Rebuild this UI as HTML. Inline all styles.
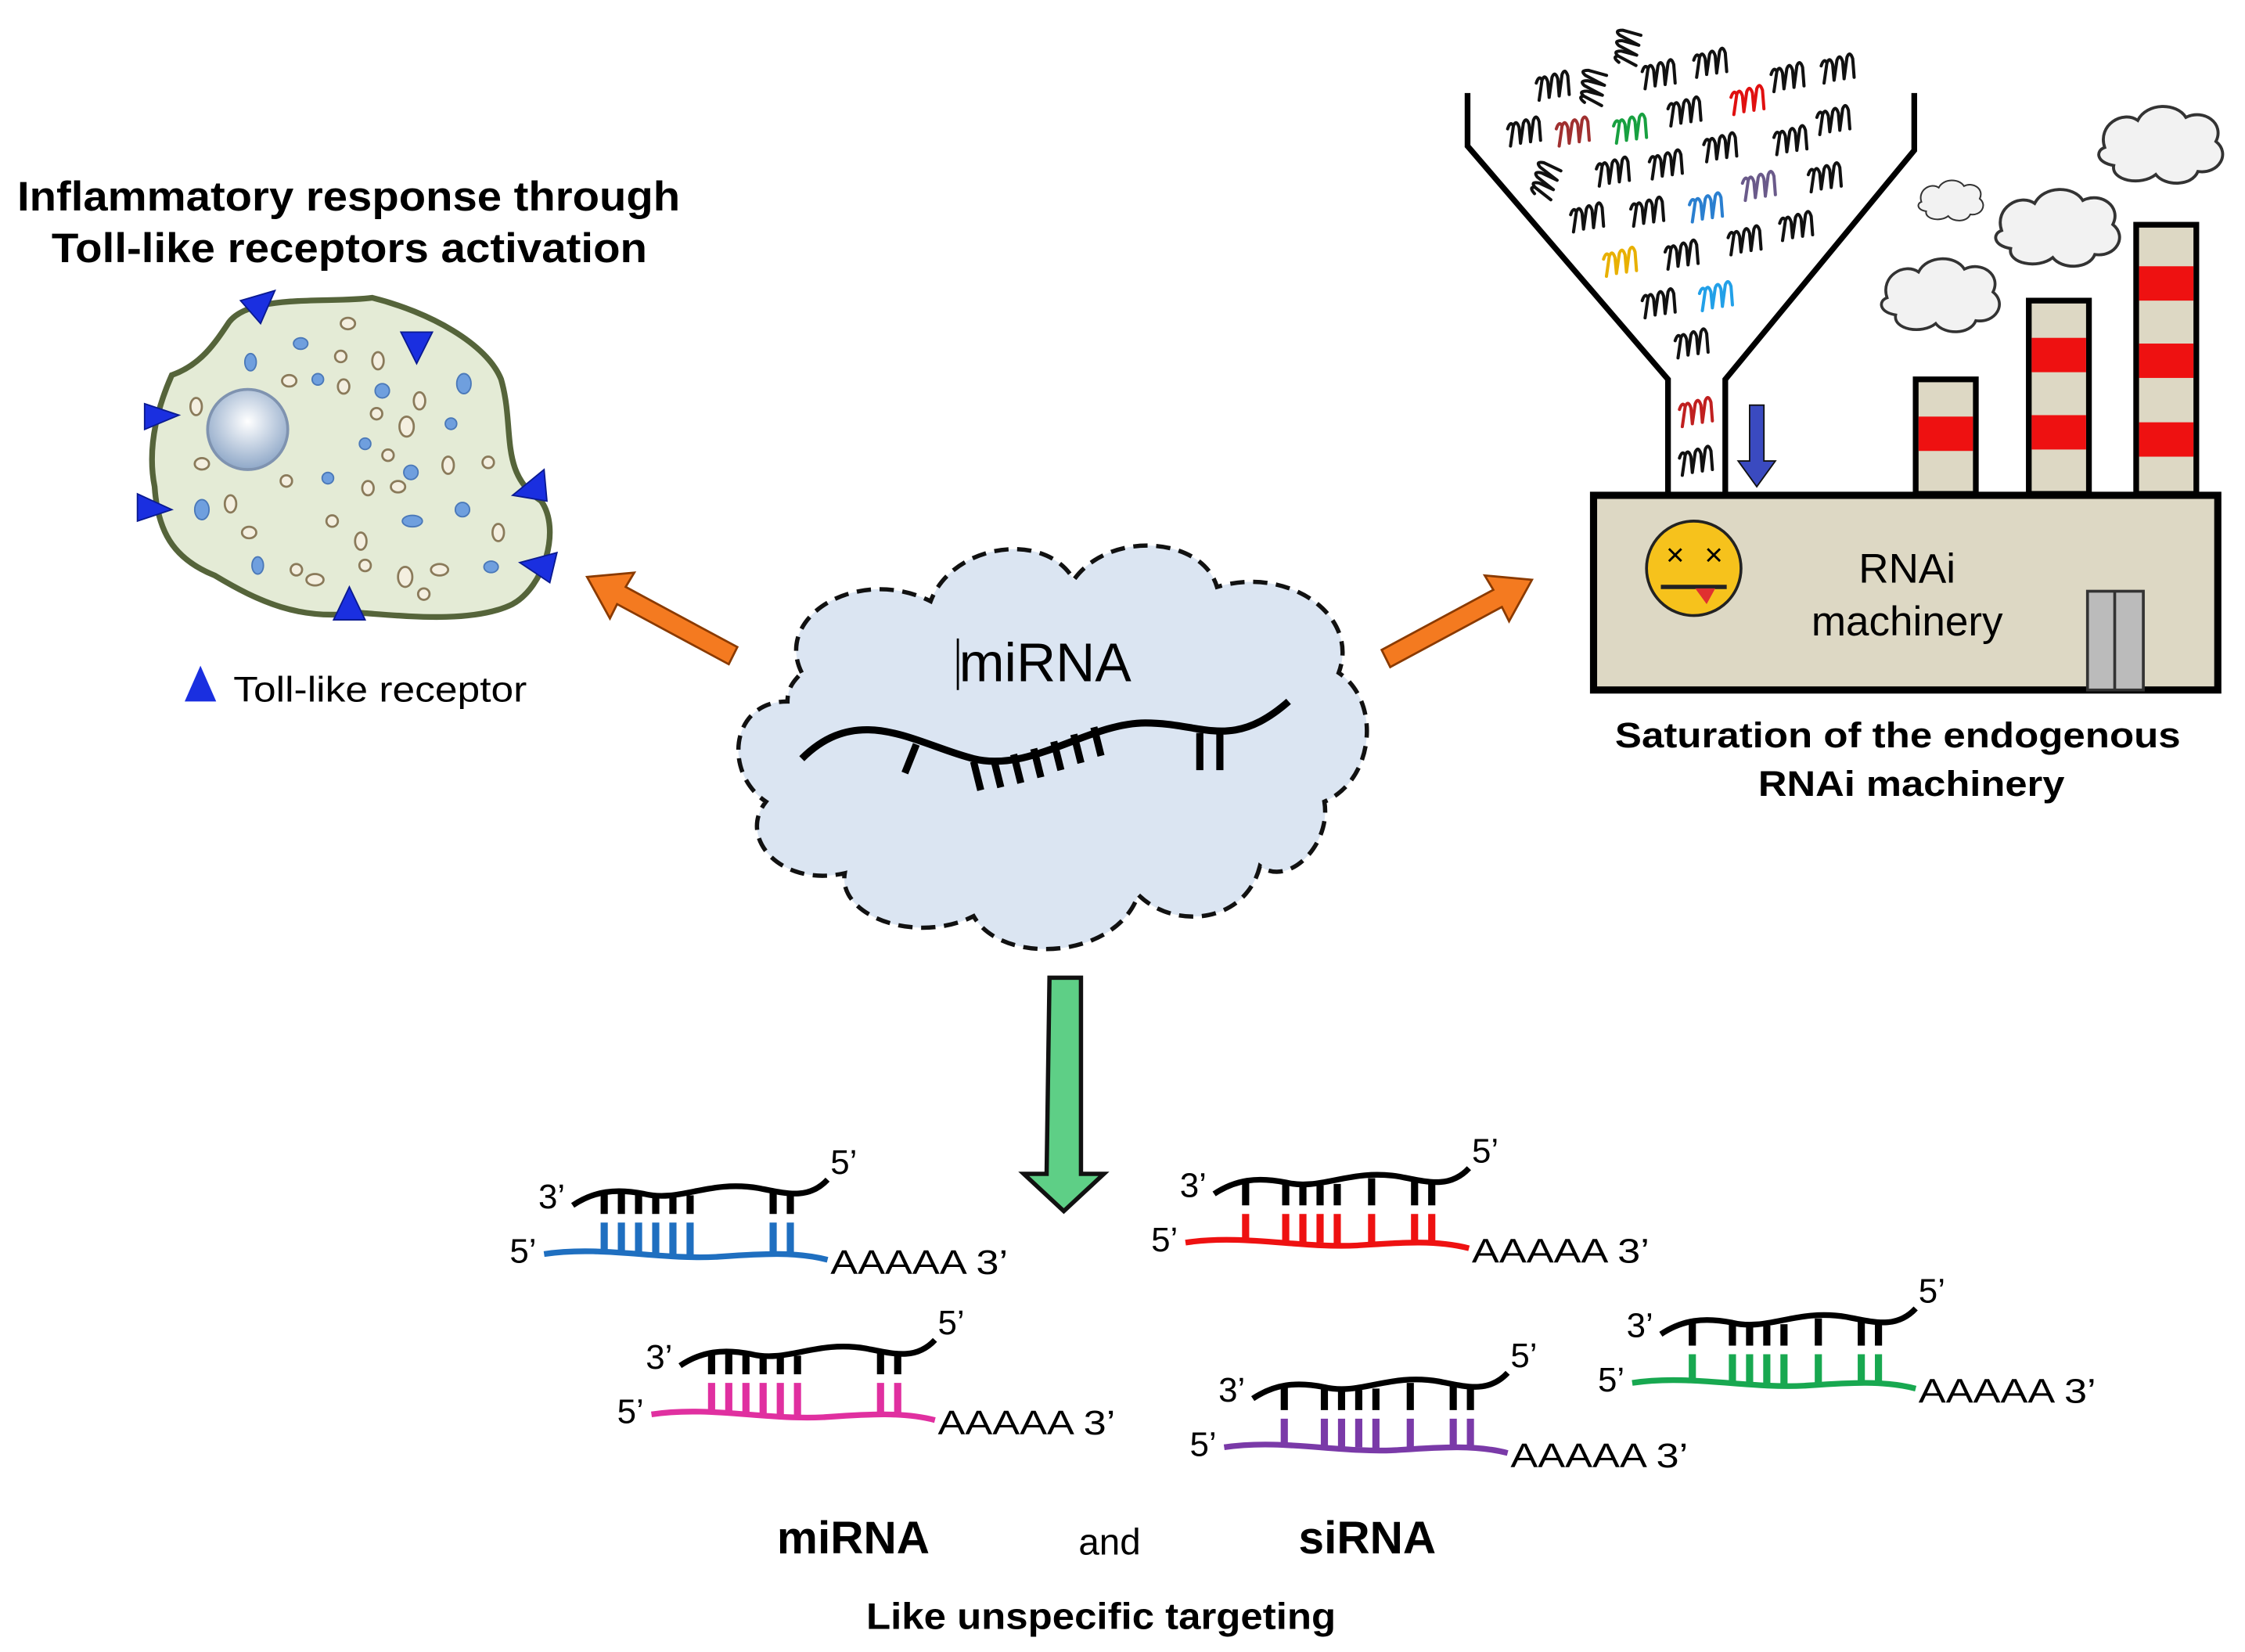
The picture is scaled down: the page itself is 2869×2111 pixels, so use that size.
<!DOCTYPE html>
<html><head><meta charset="utf-8"><style>html,body{margin:0;padding:0;background:#fff}svg{display:block}</style></head>
<body>
<svg width="2869" height="2111" viewBox="0 0 1568 1154" preserveAspectRatio="none" xmlns="http://www.w3.org/2000/svg" font-family="Liberation Sans, sans-serif">
<defs>
<radialGradient id="nuc" cx="50%" cy="40%" r="60%"><stop offset="0" stop-color="#ffffff"/><stop offset="1" stop-color="#8fa8c8"/></radialGradient>
<g id="cl"><path d="M0,20 C-5,5 12,-5 22,2 C28,-10 48,-10 54,0 C66,-6 80,4 74,16 C84,24 76,38 62,36 C58,46 40,46 34,38 C24,46 4,42 6,32 C-6,30 -6,22 0,20Z" fill="#f2f2f2" stroke="#333" stroke-width="2"/></g>
<path id="rn" d="M-11,10 L-9,-4 Q-7,-9 -5,-3 L-4,8 M-4,8 L-2,-6 Q0,-11 2,-5 L3,7 M3,7 L5,-8 Q7,-13 9,-7 L10,6 M-13,-2 Q-11,-8 -9,-4" fill="none" stroke-width="2.2" stroke-linecap="round"/>
</defs>

<!-- Left title -->
<text x="12" y="147" font-size="29" font-weight="bold" textLength="463" lengthAdjust="spacingAndGlyphs">Inflammatory response through</text>
<text x="36" y="183" font-size="29" font-weight="bold" textLength="416" lengthAdjust="spacingAndGlyphs">Toll-like receptors activation</text>

<!-- Cell -->
<path d="M160,225 C175,205 230,212 260,208 C300,218 340,240 350,265 C360,300 348,330 378,350 C392,370 380,410 358,422 C330,436 280,430 250,428 C210,434 180,420 150,402 C120,390 110,370 108,340 C102,310 112,280 120,262 C140,255 150,240 160,225Z" fill="#e4ebd6" stroke="#55643a" stroke-width="4"/>
<circle cx="173" cy="300" r="28" fill="url(#nuc)" stroke="#7f93b0" stroke-width="2"/>
<g fill="#6f9fde" stroke="#4a78b8" stroke-width="1">
<ellipse cx="175" cy="253" rx="4" ry="6"/><ellipse cx="210" cy="240" rx="5" ry="4"/><ellipse cx="222" cy="265" rx="4" ry="4"/><ellipse cx="267" cy="273" rx="5" ry="5"/><ellipse cx="324" cy="268" rx="5" ry="7"/><ellipse cx="315" cy="296" rx="4" ry="4"/><ellipse cx="229" cy="334" rx="4" ry="4"/><ellipse cx="287" cy="330" rx="5" ry="5"/><ellipse cx="288" cy="364" rx="7" ry="4"/><ellipse cx="323" cy="356" rx="5" ry="5"/><ellipse cx="141" cy="356" rx="5" ry="7"/><ellipse cx="180" cy="395" rx="4" ry="6"/><ellipse cx="343" cy="396" rx="5" ry="4"/><ellipse cx="255" cy="310" rx="4" ry="4"/>
</g>
<g fill="#f4efe0" stroke="#8a7a5a" stroke-width="1.5">
<ellipse cx="243" cy="226" rx="5" ry="4"/><ellipse cx="202" cy="266" rx="5" ry="4"/><ellipse cx="238" cy="249" rx="4" ry="4"/><ellipse cx="240" cy="270" rx="4" ry="5"/><ellipse cx="264" cy="252" rx="4" ry="6"/><ellipse cx="293" cy="280" rx="4" ry="6"/><ellipse cx="284" cy="298" rx="5" ry="7"/><ellipse cx="137" cy="284" rx="4" ry="6"/><ellipse cx="141" cy="324" rx="5" ry="4"/><ellipse cx="200" cy="336" rx="4" ry="4"/><ellipse cx="257" cy="341" rx="4" ry="5"/><ellipse cx="278" cy="340" rx="5" ry="4"/><ellipse cx="313" cy="325" rx="4" ry="6"/><ellipse cx="161" cy="352" rx="4" ry="6"/><ellipse cx="174" cy="372" rx="5" ry="4"/><ellipse cx="232" cy="364" rx="4" ry="4"/><ellipse cx="252" cy="378" rx="4" ry="6"/><ellipse cx="207" cy="398" rx="4" ry="4"/><ellipse cx="220" cy="405" rx="6" ry="4"/><ellipse cx="255" cy="395" rx="4" ry="4"/><ellipse cx="283" cy="403" rx="5" ry="7"/><ellipse cx="296" cy="415" rx="4" ry="4"/><ellipse cx="307" cy="398" rx="6" ry="4"/><ellipse cx="341" cy="323" rx="4" ry="4"/><ellipse cx="348" cy="372" rx="4" ry="6"/><ellipse cx="263" cy="289" rx="4" ry="4"/><ellipse cx="271" cy="318" rx="4" ry="4"/>
</g>
<g fill="#1a2fe0" stroke="#0a1a90" stroke-width="1">
<polygon points="168,210 192,203 182,226"/><polygon points="280,232 302,232 291,254"/><polygon points="101,282 125,290 101,300"/><polygon points="96,345 120,356 96,364"/><polygon points="358,346 380,328 382,350"/><polygon points="363,393 389,386 384,407"/><polygon points="233,433 255,433 244,410"/>
</g>
<polygon points="140,465 129,490 151,490" fill="#1a2fe0"/>
<text x="163" y="490" font-size="25" textLength="205" lengthAdjust="spacingAndGlyphs">Toll-like receptor</text>

<!-- Orange arrows -->
<g fill="#f47a20" stroke="#8a3a00" stroke-width="1.5">
<polygon points="410,403 443,400 437,410 515,452 509,464 431,422 426,432"/>
<polygon points="1070,405 1037,402 1043,412 965,454 971,466 1049,424 1054,434"/>
</g>

<!-- Cloud -->
<path d="M560,470 C540,430 600,395 650,420 C665,380 730,370 750,405 C775,370 840,375 850,410 C900,395 950,430 935,470 C965,490 960,545 925,560 C930,590 900,620 880,605 C870,645 820,650 795,625 C780,670 700,675 680,640 C640,660 585,640 590,610 C545,620 515,585 535,560 C505,540 510,490 550,490 C550,480 555,475 560,470Z" fill="#dbe5f2" stroke="#111" stroke-width="3" stroke-dasharray="10,6"/>
<text x="730" y="476" font-size="38" text-anchor="middle">miRNA</text>
<line x1="669" y1="446" x2="669" y2="482" stroke="#000" stroke-width="1.5"/>
<path d="M560,530 C600,490 640,520 680,530 C720,540 760,505 800,505 C840,505 860,525 900,490" fill="none" stroke="#000" stroke-width="5"/>
<g stroke="#000" stroke-width="5">
<line x1="640" y1="520" x2="632" y2="540"/><line x1="680" y1="532" x2="685" y2="552"/><line x1="694" y1="530" x2="699" y2="550"/><line x1="708" y1="527" x2="713" y2="547"/><line x1="722" y1="523" x2="727" y2="543"/><line x1="736" y1="518" x2="741" y2="538"/><line x1="750" y1="513" x2="755" y2="533"/><line x1="764" y1="508" x2="769" y2="528"/><line x1="838" y1="512" x2="838" y2="538"/><line x1="852" y1="512" x2="852" y2="538"/>
</g>

<!-- Green arrow -->
<polygon points="733,683 755,683 755,820 771,820 743,846 715,820 731,820" fill="#5ecf86" stroke="#111" stroke-width="3"/>

<!-- Funnel -->
<polyline points="1025,65 1025,102 1165,265 1165,345" fill="none" stroke="#000" stroke-width="4"/>
<polyline points="1337,65 1337,105 1205,265 1205,345" fill="none" stroke="#000" stroke-width="4"/>
<g stroke="#111">
<use href="#rn" x="1086" y="60"/><use href="#rn" x="1113" y="60" transform="rotate(-70 1113 60)"/><use href="#rn" x="1137" y="32" transform="rotate(-70 1137 32)"/><use href="#rn" x="1160" y="52"/><use href="#rn" x="1196" y="44"/><use href="#rn" x="1250" y="54"/><use href="#rn" x="1285" y="48"/>
<use href="#rn" x="1066" y="92"/><use href="#rn" x="1178" y="78"/><use href="#rn" x="1282" y="84"/><use href="#rn" x="1252" y="98"/>
<use href="#rn" x="1080" y="125" transform="rotate(-60 1080 125)"/><use href="#rn" x="1128" y="120"/><use href="#rn" x="1165" y="115"/><use href="#rn" x="1203" y="103"/><use href="#rn" x="1276" y="124"/>
<use href="#rn" x="1110" y="152"/><use href="#rn" x="1152" y="148"/><use href="#rn" x="1220" y="168"/><use href="#rn" x="1256" y="158"/>
<use href="#rn" x="1176" y="178"/><use href="#rn" x="1160" y="212"/><use href="#rn" x="1183" y="240"/><use href="#rn" x="1186" y="322"/>
</g>
<use href="#rn" x="1100" y="92" stroke="#a03030"/><use href="#rn" x="1222" y="70" stroke="#e01010"/><use href="#rn" x="1140" y="90" stroke="#18a040"/><use href="#rn" x="1193" y="145" stroke="#2a7fd0"/><use href="#rn" x="1230" y="130" stroke="#6a5a8a"/><use href="#rn" x="1133" y="183" stroke="#e8b000"/><use href="#rn" x="1200" y="207" stroke="#22a0e8"/><use href="#rn" x="1186" y="288" stroke="#c02020"/>
<polygon points="1222,283 1232,283 1232,322 1240,322 1227,340 1214,322 1222,322" fill="#3a4ac0" stroke="#111" stroke-width="1"/>

<!-- Factory -->
<g stroke="#000" stroke-width="4" fill="#ddd8c4">
<rect x="1338" y="265" width="42" height="80"/><rect x="1417" y="210" width="42" height="135"/><rect x="1492" y="157" width="42" height="188"/>
</g>
<g fill="#ee1111">
<rect x="1340" y="291" width="38" height="24"/>
<rect x="1419" y="236" width="38" height="24"/><rect x="1419" y="290" width="38" height="24"/>
<rect x="1494" y="186" width="38" height="24"/><rect x="1494" y="240" width="38" height="24"/><rect x="1494" y="295" width="38" height="24"/>
</g>
<rect x="1113" y="346" width="436" height="136" fill="#ddd8c4" stroke="#000" stroke-width="5"/>
<rect x="1458" y="413" width="39" height="69" fill="#bbb" stroke="#333" stroke-width="2"/>
<line x1="1477" y1="413" x2="1477" y2="482" stroke="#333" stroke-width="2"/>
<circle cx="1183" cy="397" r="33" fill="#f6c21c" stroke="#222" stroke-width="2"/>
<text x="1170" y="395" font-size="22" text-anchor="middle">×</text><text x="1197" y="395" font-size="22" text-anchor="middle">×</text>
<line x1="1160" y1="410" x2="1206" y2="410" stroke="#222" stroke-width="3"/>
<path d="M1184,411 L1198,411 L1192,422 Z" fill="#e03030"/>
<text x="1332" y="407" font-size="29" text-anchor="middle">RNAi</text>
<text x="1332" y="444" font-size="29" text-anchor="middle">machinery</text>
<text x="1128" y="522" font-size="25" font-weight="bold" textLength="395" lengthAdjust="spacingAndGlyphs">Saturation of the endogenous</text>
<text x="1228" y="556" font-size="25" font-weight="bold" textLength="214" lengthAdjust="spacingAndGlyphs">RNAi machinery</text>
<g transform="translate(1318,188)"><use href="#cl"/></g>
<g transform="translate(1342,130) scale(0.55)"><use href="#cl"/></g>
<g transform="translate(1398,140) scale(1.05)"><use href="#cl"/></g>
<g transform="translate(1470,82) scale(1.05)"><use href="#cl"/></g>

<defs>
<g id="top">
<path d="M0,12 C15,2 30,0 50,4 C75,10 95,-6 130,0 C150,4 165,8 178,-6" fill="none" stroke="#000" stroke-width="4"/>
<text x="-24" y="14" font-size="24" fill="#000">3’</text>
<text x="180" y="-10" font-size="24" fill="#000">5’</text>
<text x="-44" y="52" font-size="24" fill="#000">5’</text>
<text x="180" y="60" font-size="24" fill="#000" textLength="124" lengthAdjust="spacingAndGlyphs">AAAAA 3’</text>
</g>
</defs>
<g transform="translate(400,830)">
<use href="#top"/>
<path d="M-20,46 C20,40 60,50 100,48 C130,46 155,44 178,50" fill="none" stroke="#1f6fc0" stroke-width="4"/>
<g stroke-width="5"><g stroke="#000"><line x1="22" y1="4" x2="22" y2="18"/><line x1="34" y1="2" x2="34" y2="18"/><line x1="46" y1="3" x2="46" y2="18"/><line x1="58" y1="5" x2="58" y2="18"/><line x1="70" y1="6" x2="70" y2="18"/><line x1="82" y1="5" x2="82" y2="18"/><line x1="140" y1="2" x2="140" y2="18"/><line x1="152" y1="4" x2="152" y2="18"/></g>
<g stroke="#1f6fc0"><line x1="22" y1="24" x2="22" y2="44"/><line x1="34" y1="24" x2="34" y2="44"/><line x1="46" y1="24" x2="46" y2="46"/><line x1="58" y1="24" x2="58" y2="46"/><line x1="70" y1="24" x2="70" y2="46"/><line x1="82" y1="24" x2="82" y2="47"/><line x1="140" y1="24" x2="140" y2="45"/><line x1="152" y1="24" x2="152" y2="45"/></g></g>
</g>
<g transform="translate(848,822)">
<use href="#top"/>
<path d="M-20,46 C20,40 60,50 100,48 C130,46 155,44 178,50" fill="none" stroke="#ee1111" stroke-width="4"/>
<g stroke-width="5"><g stroke="#000"><line x1="22" y1="4" x2="22" y2="20"/><line x1="50" y1="3" x2="50" y2="20"/><line x1="62" y1="5" x2="62" y2="20"/><line x1="74" y1="6" x2="74" y2="20"/><line x1="86" y1="5" x2="86" y2="20"/><line x1="110" y1="1" x2="110" y2="20"/><line x1="140" y1="2" x2="140" y2="20"/><line x1="152" y1="4" x2="152" y2="20"/></g>
<g stroke="#ee1111"><line x1="22" y1="26" x2="22" y2="44"/><line x1="50" y1="26" x2="50" y2="46"/><line x1="62" y1="26" x2="62" y2="46"/><line x1="74" y1="26" x2="74" y2="46"/><line x1="86" y1="26" x2="86" y2="47"/><line x1="110" y1="26" x2="110" y2="47"/><line x1="140" y1="26" x2="140" y2="45"/><line x1="152" y1="26" x2="152" y2="45"/></g></g>
</g>
<g transform="translate(475,942)">
<use href="#top"/>
<path d="M-20,46 C20,40 60,50 100,48 C130,46 155,44 178,50" fill="none" stroke="#e030a0" stroke-width="4"/>
<g stroke-width="5"><g stroke="#000"><line x1="22" y1="4" x2="22" y2="18"/><line x1="34" y1="2" x2="34" y2="18"/><line x1="46" y1="3" x2="46" y2="18"/><line x1="58" y1="5" x2="58" y2="18"/><line x1="70" y1="6" x2="70" y2="18"/><line x1="82" y1="5" x2="82" y2="18"/><line x1="140" y1="2" x2="140" y2="18"/><line x1="152" y1="4" x2="152" y2="18"/></g>
<g stroke="#e030a0"><line x1="22" y1="24" x2="22" y2="44"/><line x1="34" y1="24" x2="34" y2="44"/><line x1="46" y1="24" x2="46" y2="46"/><line x1="58" y1="24" x2="58" y2="46"/><line x1="70" y1="24" x2="70" y2="46"/><line x1="82" y1="24" x2="82" y2="47"/><line x1="140" y1="24" x2="140" y2="45"/><line x1="152" y1="24" x2="152" y2="45"/></g></g>
</g>
<g transform="translate(875,965)">
<use href="#top"/>
<path d="M-20,46 C20,40 60,50 100,48 C130,46 155,44 178,50" fill="none" stroke="#7a3aa8" stroke-width="4"/>
<g stroke-width="5"><g stroke="#000"><line x1="22" y1="4" x2="22" y2="20"/><line x1="50" y1="3" x2="50" y2="20"/><line x1="62" y1="5" x2="62" y2="20"/><line x1="74" y1="6" x2="74" y2="20"/><line x1="86" y1="5" x2="86" y2="20"/><line x1="110" y1="1" x2="110" y2="20"/><line x1="140" y1="2" x2="140" y2="20"/><line x1="152" y1="4" x2="152" y2="20"/></g>
<g stroke="#7a3aa8"><line x1="22" y1="26" x2="22" y2="44"/><line x1="50" y1="26" x2="50" y2="46"/><line x1="62" y1="26" x2="62" y2="46"/><line x1="74" y1="26" x2="74" y2="46"/><line x1="86" y1="26" x2="86" y2="47"/><line x1="110" y1="26" x2="110" y2="47"/><line x1="140" y1="26" x2="140" y2="45"/><line x1="152" y1="26" x2="152" y2="45"/></g></g>
</g>
<g transform="translate(1160,920)">
<use href="#top"/>
<path d="M-20,46 C20,40 60,50 100,48 C130,46 155,44 178,50" fill="none" stroke="#18a850" stroke-width="4"/>
<g stroke-width="5"><g stroke="#000"><line x1="22" y1="4" x2="22" y2="20"/><line x1="50" y1="3" x2="50" y2="20"/><line x1="62" y1="5" x2="62" y2="20"/><line x1="74" y1="6" x2="74" y2="20"/><line x1="86" y1="5" x2="86" y2="20"/><line x1="110" y1="1" x2="110" y2="20"/><line x1="140" y1="2" x2="140" y2="20"/><line x1="152" y1="4" x2="152" y2="20"/></g>
<g stroke="#18a850"><line x1="22" y1="26" x2="22" y2="44"/><line x1="50" y1="26" x2="50" y2="46"/><line x1="62" y1="26" x2="62" y2="46"/><line x1="74" y1="26" x2="74" y2="46"/><line x1="86" y1="26" x2="86" y2="47"/><line x1="110" y1="26" x2="110" y2="47"/><line x1="140" y1="26" x2="140" y2="45"/><line x1="152" y1="26" x2="152" y2="45"/></g></g>
</g>

<text x="596" y="1085" font-size="32" font-weight="bold" text-anchor="middle">miRNA</text>
<text x="775" y="1086" font-size="26" text-anchor="middle">and</text>
<text x="955" y="1085" font-size="32" font-weight="bold" text-anchor="middle">siRNA</text>
<text x="605" y="1138" font-size="26" font-weight="bold" textLength="328" lengthAdjust="spacingAndGlyphs">Like unspecific targeting</text>
</svg>
</body></html>
